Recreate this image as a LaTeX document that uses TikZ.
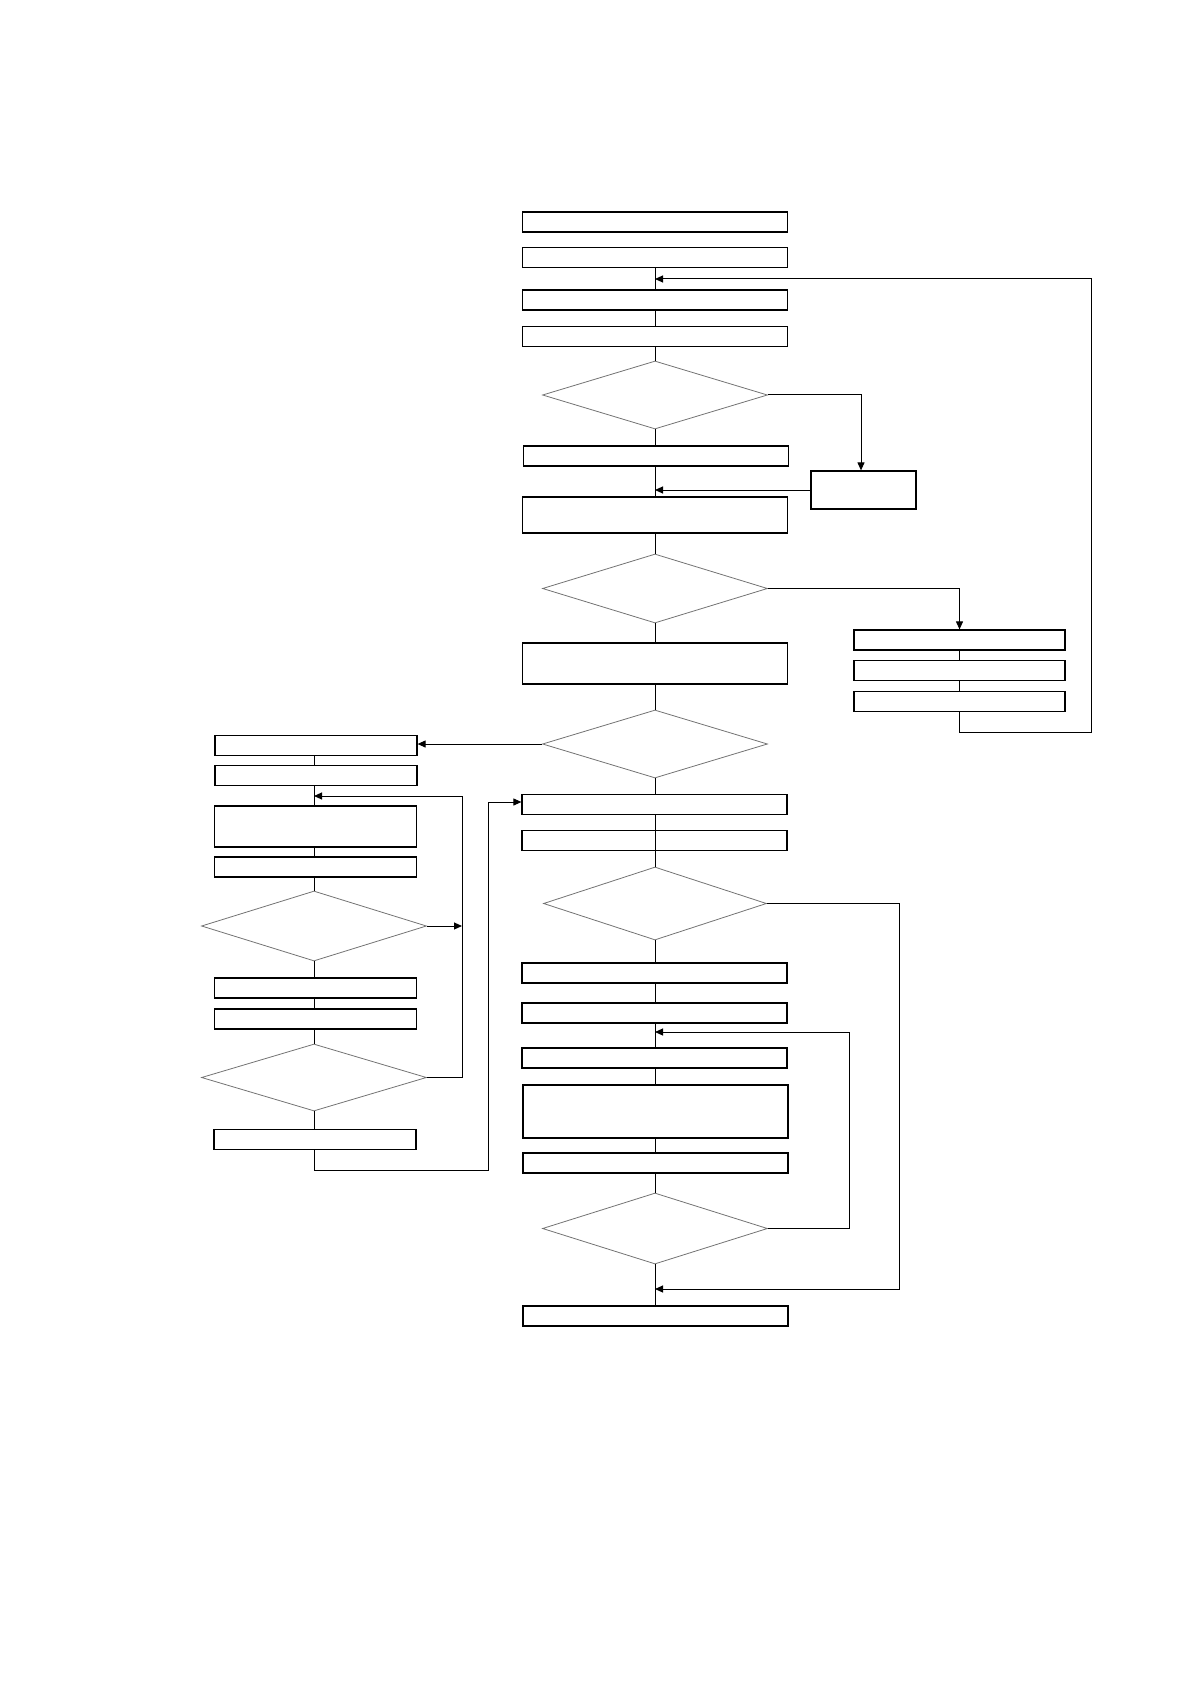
\documentclass[tikz,border=0pt]{standalone}
\usepackage{tikz}
\usetikzlibrary{calc,positioning,shapes.geometric,arrows.meta}

\tikzset{
  box/.style={draw, line width=0.6pt, inner sep=0pt, minimum width=132.5pt, minimum height=10pt},
  lbox/.style={box, minimum width=101pt},
  rbox/.style={box, minimum width=105.5pt},
  dia/.style={diamond, draw=black!55, line width=0.4pt, inner sep=0pt, minimum width=112.5pt, minimum height=34pt},
  conn/.style={line width=0.5pt}
}

\begin{document}
\begin{tikzpicture}[x=0.5pt, y=-0.5pt, >={Triangle[length=4pt,width=3.5pt]}]
\useasboundingbox (0,0) rectangle (1190,1684);

% main column
\node[box] (a) at (655,222) {};
\node[box] (b) at (655,257.5) {};
\node[box] (c) at (655,300) {};
\node[box] (d) at (655,336.5) {};
\node[dia] (q1) at (655,395) {};
\node[box] (e) at (656,456) {};
\node[box, minimum width=52.5pt, minimum height=19pt] (s) at (863.5,490) {};
\node[box, minimum height=18pt] (f) at (655,515) {};
\node[dia, minimum height=34.5pt] (q2) at (655,588.5) {};
\node[rbox] (g1) at (959.5,640) {};
\node[rbox] (g2) at (959.5,670.5) {};
\node[rbox] (g3) at (959.5,701.5) {};
\node[box, minimum height=20.5pt] (h) at (655,663.5) {};
\node[dia] (q3) at (655,744) {};

% left column
\node[lbox] (l1) at (316,745.5) {};
\node[lbox] (l2) at (316,775.5) {};
\node[lbox, minimum height=20.5pt] (l3) at (315.5,826.5) {};
\node[lbox] (l4) at (315.5,867) {};
\node[dia, minimum height=35pt] (p1) at (314,926) {};
\node[lbox] (l5) at (315.5,988) {};
\node[lbox] (l6) at (315.5,1019) {};
\node[dia, minimum height=33.5pt] (p2) at (314,1077.5) {};
\node[lbox] (l7) at (315,1139.5) {};

% lower main column
\node[box] (m1) at (654.5,804.5) {};
\node[box] (m2) at (654.5,840.5) {};
\node[dia, minimum width=111.5pt, minimum height=36.5pt] (q4) at (655,903.5) {};
\node[box] (m3) at (654.5,973) {};
\node[box] (m4) at (654.5,1013) {};
\node[box] (m5) at (654.5,1058) {};
\node[box, minimum height=26.5pt] (m6) at (655.5,1111.5) {};
\node[box] (m7) at (655.5,1163) {};
\node[dia, minimum height=35.5pt] (q5) at (655,1228.5) {};
\node[box] (m8) at (655.5,1316) {};

% junctions and corners
\coordinate (j1) at (655,279);
\coordinate (j2) at (655,490);
\coordinate (j3) at (314,796);
\coordinate (j4) at (655,1032);
\coordinate (j5) at (655,1289);
\coordinate (k1) at (1091,732);
\coordinate (k2) at (462,926);
\coordinate (k3) at (462,796);
\coordinate (k4) at (488,1170);
\coordinate (k5) at (899,903.5);
\coordinate (k6) at (849,1228.5);

% straight links
\draw[conn] (b.south) -- (c.north);
\draw[conn] (c.south) -- (d.north);
\draw[conn] (d.south) -- (q1.north);
\draw[conn] (q1.south) -- (e.north -| q1.south);
\draw[conn] (e.south -| q1.south) -- (f.north);
\draw[conn] (f.south) -- (q2.north);
\draw[conn] (q2.south) -- (h.north);
\draw[conn] (h.south) -- (q3.north);
\draw[conn] (q3.south) -- (m1.north -| q3.south);
\draw[conn] (m1.south -| q3.south) -- (m2.south -| q3.south) -- (q4.north);
\draw[conn] (q4.south) -- (m3.north -| q4.south);
\draw[conn] (m3.south -| q4.south) -- (m4.north -| q4.south);
\draw[conn] (m4.south -| q4.south) -- (m5.north -| q4.south);
\draw[conn] (m5.south -| q4.south) -- (m6.north -| q4.south);
\draw[conn] (m6.south -| q4.south) -- (m7.north -| q4.south);
\draw[conn] (m7.south -| q4.south) -- (q5.north);
\draw[conn] (q5.south) -- (m8.north -| q5.south);
\draw[conn] (g1.south) -- (g2.north);
\draw[conn] (g2.south) -- (g3.north);
\draw[conn] (l1.south -| j3) -- (l2.north -| j3);
\draw[conn] (l2.south -| j3) -- (l3.north -| j3);
\draw[conn] (l3.south -| j3) -- (l4.north -| j3);
\draw[conn] (l4.south -| j3) -- (p1.north);
\draw[conn] (p1.south) -- (l5.north -| j3);
\draw[conn] (l5.south -| j3) -- (l6.north -| j3);
\draw[conn] (l6.south -| j3) -- (p2.north);
\draw[conn] (p2.south) -- (l7.north -| j3);

% branches and loops
\draw[conn,->] (q1.east) -| (s.north -| 861,0);
\draw[conn,->] (s.west) -- (j2);
\draw[conn,->] (q2.east) -| (g1.north);
\draw[conn,->] (g3.south) |- (k1) |- (j1);
\draw[conn,->] (q3.west) -- (l1.east |- q3.west);
\draw[conn,->] (p1.east) -- (k2);
\draw[conn,->] (p2.east) -| (k3) -- (j3);
\draw[conn,->] (l7.south -| j3) |- (k4) |- (m1.west |- 0,802);
\draw[conn,->] (q4.east) -- (k5) |- (j5);
\draw[conn,->] (q5.east) -- (k6) |- (j4);
\end{tikzpicture}
\end{document}
